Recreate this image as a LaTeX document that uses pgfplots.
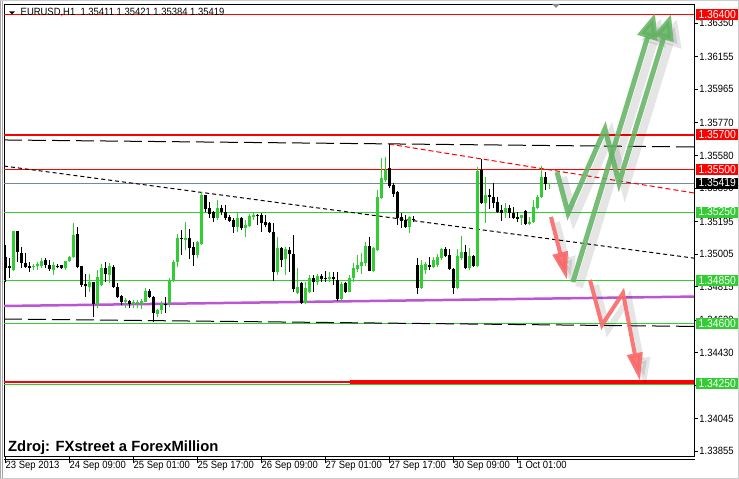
\documentclass[border=0pt]{standalone}
\usepackage{pgfplots}
\pgfplotsset{compat=1.18}
\usepackage{pgfplotstable}
\usetikzlibrary{arrows.meta}
\usepackage{fontspec}
\setmainfont{Liberation Sans}
\newfontfamily\tah[FakeStretch=0.9]{Liberation Sans}
\definecolor{bullg}{RGB}{50,205,50}
\definecolor{mtred}{RGB}{255,0,0}
\definecolor{bidgray}{RGB}{119,136,153}
\definecolor{purp}{RGB}{186,85,211}
\definecolor{arrg}{RGB}{96,178,96}
\definecolor{arrr}{RGB}{250,105,105}

\pgfplotstableread{
x o h l c
2 1.34912 1.35139 1.34906 1.35139
7 1.34929 1.34947 1.34912 1.34935
8 1.34935 1.34958 1.34912 1.34947
9 1.34935 1.34982 1.34924 1.34964
12 1.34912 1.34958 1.34883 1.34941
15 1.34924 1.34964 1.34912 1.34964
16 1.34964 1.34993 1.34958 1.34988
17 1.34988 1.35186 1.34982 1.35116
21 1.34813 1.34889 1.34784 1.34842
23 1.34714 1.34912 1.34690 1.34871
24 1.34824 1.34947 1.34819 1.34924
26 1.34883 1.34953 1.34836 1.34935
30 1.34725 1.34749 1.34690 1.34737
32 1.34714 1.34737 1.34690 1.34725
33 1.34719 1.34737 1.34690 1.34725
34 1.34714 1.34743 1.34684 1.34731
35 1.34725 1.34807 1.34725 1.34789
38 1.34655 1.34684 1.34638 1.34679
39 1.34679 1.34731 1.34655 1.34714
41 1.34719 1.34865 1.34696 1.34848
42 1.34848 1.34970 1.34842 1.34958
43 1.34958 1.35122 1.34929 1.35098
45 1.35087 1.35192 1.35028 1.35098
48 1.34999 1.35081 1.34982 1.35075
49 1.35063 1.35367 1.35058 1.35349
53 1.35215 1.35320 1.35203 1.35273
58 1.35163 1.35244 1.35133 1.35215
60 1.35157 1.35203 1.35104 1.35174
61 1.35168 1.35238 1.35163 1.35227
62 1.35221 1.35250 1.35203 1.35233
68 1.34900 1.35104 1.34883 1.35040
70 1.34976 1.35046 1.34883 1.35034
73 1.34778 1.34924 1.34772 1.34813
75 1.34719 1.34842 1.34714 1.34807
76 1.34784 1.34883 1.34778 1.34865
78 1.34842 1.34889 1.34824 1.34877
81 1.34859 1.34900 1.34842 1.34871
84 1.34743 1.34842 1.34737 1.34830
86 1.34784 1.34883 1.34784 1.34865
87 1.34865 1.34953 1.34842 1.34924
88 1.34918 1.34999 1.34900 1.34941
89 1.34935 1.35011 1.34889 1.34958
90 1.34953 1.35075 1.34935 1.35052
92 1.34906 1.35046 1.34900 1.35040
93 1.35028 1.35378 1.35023 1.35338
94 1.35332 1.35565 1.35326 1.35448
95 1.35437 1.35571 1.35425 1.35495
101 1.35163 1.35227 1.35128 1.35221
104 1.34807 1.34970 1.34801 1.34941
105 1.34912 1.34958 1.34889 1.34947
107 1.34929 1.34988 1.34924 1.34970
108 1.34941 1.35005 1.34929 1.34988
109 1.34982 1.35040 1.34970 1.35034
113 1.34807 1.35034 1.34801 1.34993
114 1.34982 1.35110 1.34970 1.35017
116 1.34924 1.35040 1.34912 1.34993
118 1.34935 1.35512 1.34929 1.35489
120 1.35303 1.35454 1.35186 1.35349
125 1.35244 1.35303 1.35215 1.35273
129 1.35215 1.35233 1.35174 1.35233
131 1.35180 1.35221 1.35174 1.35192
132 1.35192 1.35320 1.35186 1.35279
133 1.35273 1.35349 1.35268 1.35338
134 1.35338 1.35518 1.35332 1.35454
136 1.35411 1.35421 1.35384 1.35419
}\bull

\pgfplotstableread{
x o h l c
0 1.34988 1.35058 1.34842 1.34924
1 1.34935 1.34982 1.34865 1.34924
3 1.35139 1.35139 1.34958 1.35017
4 1.35011 1.35046 1.34924 1.34953
5 1.34953 1.35011 1.34924 1.34929
6 1.34935 1.34958 1.34900 1.34924
10 1.34970 1.34982 1.34924 1.34941
11 1.34941 1.34970 1.34906 1.34918
13 1.34935 1.34947 1.34924 1.34929
14 1.34941 1.34941 1.34918 1.34924
18 1.35122 1.35163 1.34924 1.34929
19 1.34935 1.34935 1.34813 1.34824
20 1.34830 1.34889 1.34754 1.34819
22 1.34842 1.34842 1.34638 1.34714
25 1.34924 1.34958 1.34842 1.34889
27 1.34929 1.34941 1.34807 1.34813
28 1.34813 1.34836 1.34749 1.34754
29 1.34760 1.34766 1.34708 1.34725
31 1.34731 1.34737 1.34690 1.34714
36 1.34789 1.34801 1.34749 1.34754
37 1.34754 1.34760 1.34609 1.34661
40 1.34714 1.34754 1.34661 1.34708
44 1.35098 1.35145 1.34999 1.35093
46 1.35098 1.35151 1.34976 1.35040
47 1.35046 1.35075 1.34935 1.34999
50 1.35349 1.35349 1.35250 1.35268
51 1.35273 1.35308 1.35215 1.35238
52 1.35250 1.35256 1.35192 1.35215
54 1.35273 1.35291 1.35233 1.35250
55 1.35250 1.35291 1.35203 1.35215
56 1.35221 1.35233 1.35192 1.35198
57 1.35203 1.35215 1.35128 1.35163
59 1.35215 1.35221 1.35145 1.35157
63 1.35233 1.35238 1.35174 1.35227
64 1.35233 1.35244 1.35133 1.35186
65 1.35192 1.35233 1.35163 1.35174
66 1.35186 1.35192 1.35128 1.35133
67 1.35133 1.35186 1.34848 1.34900
69 1.35040 1.35046 1.34929 1.34970
71 1.35028 1.35046 1.34900 1.35005
72 1.35005 1.35116 1.34784 1.34801
74 1.34836 1.34842 1.34714 1.34719
77 1.34865 1.34883 1.34784 1.34842
79 1.34877 1.34889 1.34842 1.34859
80 1.34865 1.34906 1.34842 1.34859
82 1.34871 1.34900 1.34824 1.34859
83 1.34854 1.34900 1.34731 1.34743
85 1.34836 1.34842 1.34778 1.34784
91 1.35052 1.35104 1.34906 1.34906
96 1.35507 1.35646 1.35390 1.35402
97 1.35407 1.35419 1.35338 1.35355
98 1.35367 1.35372 1.35174 1.35215
99 1.35221 1.35244 1.35157 1.35198
100 1.35203 1.35233 1.35157 1.35163
102 1.35209 1.35227 1.35192 1.35203
103 1.34941 1.34982 1.34772 1.34807
106 1.34941 1.34988 1.34912 1.34929
110 1.35034 1.35046 1.34988 1.34993
111 1.34999 1.35034 1.34912 1.34918
112 1.34918 1.34924 1.34772 1.34807
115 1.35017 1.35058 1.34918 1.34924
117 1.34993 1.34999 1.34929 1.34935
119 1.35495 1.35559 1.35297 1.35303
121 1.35349 1.35384 1.35268 1.35338
122 1.35338 1.35419 1.35273 1.35303
123 1.35308 1.35338 1.35244 1.35250
124 1.35262 1.35291 1.35198 1.35244
126 1.35273 1.35291 1.35215 1.35244
127 1.35244 1.35279 1.35209 1.35215
128 1.35221 1.35250 1.35192 1.35209
130 1.35256 1.35262 1.35174 1.35180
135 1.35454 1.35483 1.35378 1.35413
}\bear

\newcommand{\pbox}[3]{\node[fill=#2, text=white, font=\tah\fontsize{11.5}{11.5}\selectfont, inner sep=0pt, minimum width=42pt, minimum height=11pt, anchor=west] at ([xshift=2pt]#1) {#3};}

\begin{document}
\begin{tikzpicture}[x=1pt,y=1pt]
\useasboundingbox (0,0) rectangle (739,479);
\fill[white] (0,0) rectangle (739,479);
\draw[black!35, line width=1pt] (0.5,0) -- (0.5,479);
\draw[black!35, line width=1pt] (2.5,0) -- (2.5,479);
\draw[black!20, line width=1pt] (0,478.5) -- (739,478.5);
\draw[black!20, line width=1pt] (0,0.5) -- (739,0.5);
\draw[black!20, line width=1pt] (738.5,0) -- (738.5,479);
\begin{axis}[
  at={(4pt,23pt)}, anchor=south west,
  scale only axis, width=690pt, height=452pt,
  xmin=-0.25, xmax=172.25, ymin=1.338275, ymax=1.364627,
  enlargelimits=false, clip mode=individual,
  axis line style={line width=0.8pt, black},
  tick align=outside,
  xtick pos=bottom, ytick pos=right, yticklabel pos=right,
  xtick style={/pgfplots/major tick length=7pt, line width=0.8pt, black},
  ytick style={/pgfplots/major tick length=3.5pt, line width=0.8pt, black},
  scaled y ticks=false,
  xtick={0,16,32,48,64,80,96,112,128},
  xticklabels={23 Sep 2013,24 Sep 09:00,25 Sep 01:00,25 Sep 17:00,26 Sep 09:00,27 Sep 01:00,27 Sep 17:00,30 Sep 09:00,1 Oct 01:00},
  ytick={1.33855,1.34045,1.34240,1.34430,1.34620,1.34815,1.35005,1.35195,1.35390,1.35580,1.35770,1.35965,1.36155,1.36350},
  yticklabels={1.33855,1.34045,1.34240,1.34430,1.34620,1.34815,1.35005,1.35195,1.35390,1.35580,1.35770,1.35965,1.36155,1.36350},
  ticklabel style={font=\tah\fontsize{10.5}{10.5}\selectfont, inner sep=0pt},
  xticklabel style={anchor=north west, xshift=0.5pt, yshift=-1pt},
  yticklabel style={anchor=west, xshift=1pt},
  candle/.style={draw=none, mark=none, forget plot, error bars/.cd, y dir=plus, y explicit, error mark=none},
]
% horizontal levels
\addplot[bullg, line width=1pt] coordinates {(-1,1.3525) (175,1.3525)};
\addplot[bullg, line width=1pt] coordinates {(-1,1.3485) (175,1.3485)};
\addplot[bullg, line width=1pt] coordinates {(-1,1.3460) (175,1.3460)};
\addplot[bullg, line width=1pt] coordinates {(-1,1.34243) (175,1.34243)};
\addplot[mtred, line width=1pt] coordinates {(-1,1.364) (175,1.364)};
\addplot[mtred, line width=2pt] coordinates {(-1,1.357) (175,1.357)};
\addplot[mtred, line width=1pt] coordinates {(-1,1.355) (175,1.355)};
\addplot[mtred, line width=2pt] coordinates {(-1,1.3426) (86.25,1.3426)};
\addplot[mtred, line width=3.5pt] coordinates {(86.25,1.3426) (175,1.3426)};
\addplot[bidgray, line width=1pt] coordinates {(-1,1.35419) (175,1.35419)};
% trend lines
\addplot[black, line width=1pt, dash pattern=on 18pt off 6pt] coordinates {(-0.25,1.35670) (172.25,1.35629)};
\addplot[black, line width=1pt, dash pattern=on 18pt off 6pt] coordinates {(-0.25,1.34626) (172.25,1.34583)};
\addplot[black, line width=1pt, dash pattern=on 4pt off 3pt] coordinates {(-0.25,1.35518) (172.25,1.34981)};
\addplot[mtred, line width=1pt, dash pattern=on 5pt off 3pt] coordinates {(96,1.35646) (172.25,1.35361)};
\addplot[purp, line width=2.5pt] coordinates {(-0.25,1.34702) (172.25,1.34757)};
% candles: wicks and bodies
\addplot[candle, error bar style={draw=black, line width=1pt}]
  table[x=x, y=l, y error plus expr=\thisrow{h}-\thisrow{l}] {\bear};
\addplot[candle, error bar style={draw=black, line width=3pt}]
  table[x=x, y=c, y error plus expr=\thisrow{o}-\thisrow{c}] {\bear};
\addplot[candle, error bar style={draw=bullg, line width=1pt}]
  table[x=x, y=l, y error plus expr=\thisrow{h}-\thisrow{l}] {\bull};
\addplot[candle, error bar style={draw=bullg, line width=3pt}]
  table[x=x, y=o, y error plus expr=\thisrow{c}-\thisrow{o}] {\bull};
% arrows: shadows
\begin{scope}[transform canvas={shift={(3pt,-2.5pt)}}]
\addplot[black, opacity=0.10, line width=8pt, line join=miter, -{Triangle[width=24pt,length=27pt]}] coordinates {(138,1.35483) (140.75,1.35244) (150,1.35734) (153.5,1.35419) (166.5,1.36404)};
\addplot[black, opacity=0.10, line width=8pt, -{Triangle[width=24pt,length=27pt]}] coordinates {(142,1.34842) (162.5,1.36410)};
\addplot[black, opacity=0.10, line width=6pt, -{Triangle[width=18pt,length=28pt]}] coordinates {(136.5,1.35221) (140.5,1.34854)};
\addplot[black, opacity=0.10, line width=6pt, line join=miter, -{Triangle[width=18pt,length=28pt]}] coordinates {(146.25,1.34854) (149.25,1.34591) (154.5,1.34778) (158.75,1.34265)};
\end{scope}
% arrows
\addplot[arrg, opacity=0.85, line width=5pt, line join=miter, -{Triangle[width=20pt,length=26pt]}] coordinates {(138,1.35483) (140.75,1.35244) (150,1.35734) (153.5,1.35419) (166.5,1.36404)};
\addplot[arrg, opacity=0.85, line width=5pt, -{Triangle[width=20pt,length=26pt]}] coordinates {(142,1.34842) (162.5,1.36410)};
\addplot[arrr, opacity=0.9, line width=4pt, -{Triangle[width=15pt,length=28pt]}] coordinates {(136.5,1.35221) (140.5,1.34854)};
\addplot[arrr, opacity=0.9, line width=4pt, line join=miter, -{Triangle[width=15pt,length=28pt]}] coordinates {(146.25,1.34854) (149.25,1.34591) (154.5,1.34778) (158.75,1.34265)};
% anchors for price boxes
\coordinate (b1) at (axis cs:172.25,1.364);
\coordinate (b2) at (axis cs:172.25,1.357);
\coordinate (b3) at (axis cs:172.25,1.355);
\coordinate (b4) at (axis cs:172.25,1.35419);
\coordinate (b5) at (axis cs:172.25,1.3525);
\coordinate (b6) at (axis cs:172.25,1.3485);
\coordinate (b7) at (axis cs:172.25,1.3460);
\coordinate (b8) at (axis cs:172.25,1.3425);
\end{axis}
% second bottom line
\draw[black, line width=0.8pt] (4,20) -- (695,20);
% price boxes
\pbox{b1}{mtred}{1.36400}
\pbox{b2}{mtred}{1.35700}
\pbox{b3}{mtred}{1.35500}
\pbox{b4}{black}{1.35419}
\pbox{b5}{bullg}{1.35250}
\pbox{b6}{bullg}{1.34850}
\pbox{b7}{bullg}{1.34600}
\pbox{b8}{bullg}{1.34250}
% header
\fill[black] (9,467.5) -- (15,467.5) -- (12,464.5) -- cycle;
\node[anchor=base west, inner sep=0pt, font=\tah\fontsize{10.5}{10.5}\selectfont] at (20.5,463) {EURUSD,H1\ \ 1.35411 1.35421 1.35384 1.35419};
\fill[black!45] (552,475) -- (560,475) -- (556,471) -- cycle;
% source
\node[anchor=base west, inner sep=0pt, font=\bfseries\fontsize{14.8}{14.8}\selectfont] at (8,27.5) {Zdroj: FXstreet a ForexMillion};
\end{tikzpicture}
\end{document}
